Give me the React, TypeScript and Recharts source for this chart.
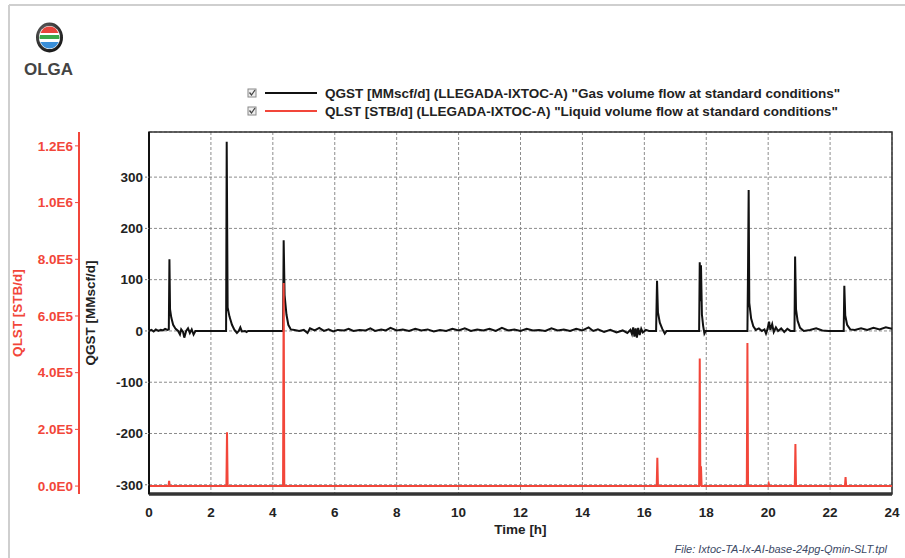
import React from 'react';
import { ComposedChart, Line, XAxis, YAxis, CartesianGrid, ReferenceArea } from 'recharts';

const hourTicks = [0, 2, 4, 6, 8, 10, 12, 14, 16, 18, 20, 22, 24];
const qgstTicks = [-300, -200, -100, 0, 100, 200, 300];
const qlstTicks = [0, 200000, 400000, 600000, 800000, 1000000, 1200000];
const timeDomain = [0, 24];
const qgstDomain = [-318, 388];
const qlstDomain = [-28000, 1249000];

const legendLabels = [
  'QGST [MMscf/d] (LLEGADA-IXTOC-A) "Gas volume flow at standard conditions"',
  'QLST [STB/d] (LLEGADA-IXTOC-A) "Liquid volume flow at standard conditions"',
];

// gas flow
const qgstTime = [
  0, 0.08, 0.15, 0.22, 0.3, 0.38, 0.45, 0.52, 0.6, 0.64, 0.66, 0.68, 0.72, 0.78, 0.86, 0.94, 1.0, 1.04, 1.1, 1.14,
  1.2, 1.26, 1.32, 1.38, 1.44, 1.5, 2.49, 2.51, 2.54, 2.6, 2.68, 2.76, 2.84, 2.9, 2.95, 3.0, 3.1, 3.15, 3.2, 4.33,
  4.35, 4.38, 4.44, 4.5, 4.58, 4.7, 4.85, 5.0, 5.12, 5.2, 5.35, 5.5, 5.65, 5.8, 5.95, 6.1, 6.3, 6.45, 6.6, 6.8,
  7.0, 7.15, 7.3, 7.5, 7.65, 7.8, 8.0, 8.2, 8.4, 8.6, 8.8, 9.0, 9.2, 9.4, 9.6, 9.8, 10.0, 10.2, 10.4, 10.6,
  10.8, 11.0, 11.2, 11.4, 11.6, 11.8, 12.0, 12.2, 12.4, 12.6, 12.8, 13.0, 13.2, 13.4, 13.6, 13.8, 14.0, 14.2, 14.35, 14.5,
  14.7, 14.9, 15.1, 15.3, 15.45, 15.55, 15.6, 15.64, 15.68, 15.72, 15.76, 15.8, 15.85, 15.9, 15.95, 16.05, 16.15, 16.38, 16.41, 16.44,
  16.5, 16.58, 16.66, 16.72, 17.77, 17.79, 17.81, 17.83, 17.86, 17.9, 17.94, 17.98, 19.33, 19.35, 19.37, 19.39, 19.45, 19.52, 19.6, 19.7,
  19.8, 19.88, 19.93, 19.98, 20.03, 20.07, 20.13, 20.18, 20.25, 20.32, 20.42, 20.52, 20.62, 20.72, 20.85, 20.87, 20.9, 20.95, 21.03, 21.15,
  21.35, 21.55, 21.75, 21.95, 22.15, 22.44, 22.46, 22.49, 22.55, 22.65, 22.8, 23.0, 23.2, 23.4, 23.6, 23.8, 24,
];
const qgstValue = [
  0, 2, -1, 3, 0, 2, 1, 4, 2, 3, 140, 42, 26, 12, 4, 0, -7, 3, -2, -13,
  0, 5, -4, 3, -7, 0, 0, 369, 46, 28, 12, 2, -4, 0, 7, -1, 0, -2, 0, 0,
  177, 70, 32, 12, 3, 2, 0, 2, -4, 5, 1, 6, 0, 3, -1, 2, 1, 4, 0, 2,
  1, 5, 0, 3, 1, 6, 1, 3, 0, 4, 1, 3, -1, 2, 0, 4, 1, 5, 0, 3,
  1, 4, 0, 6, 1, 3, 0, 4, 1, 2, 0, 5, 1, 3, 0, 4, 1, 7, 0, 3,
  -2, 2, -3, 1, -4, 2, -6, 7, -11, 5, -13, 6, -8, 4, -3, 2, 0, 0, 98, 36,
  16, 4, -5, 0, 0, 134, 58, 128, 32, 10, -5, 0, 0, 123, 275, 55, 24, 9, 2, 5,
  0, 3, -5, 4, 18, 2, 13, -2, 7, 0, 5, -2, 4, 0, 0, 145, 42, 20, 6, 0,
  2, 5, 1, 0, 0, 0, 88, 30, 12, 3, 2, 5, 2, 6, 3, 7, 4,
];

// liquid flow
const qlstTime = [
  0, 0.63, 0.65, 0.67, 2.5, 2.52, 2.54, 4.33, 4.35, 4.37, 16.4, 16.42, 16.44, 17.77, 17.79, 17.81, 17.83, 17.85,
  19.31, 19.33, 19.35, 20.0, 20.02, 20.04, 20.86, 20.88, 20.9, 22.48, 22.5, 22.52, 24,
];
const qlstValue = [
  0, 0, 18000, 0, 0, 190000, 0, 0, 716000, 0, 0, 100000, 0, 0, 450000, 0, 70000, 0,
  0, 505000, 0, 0, 8000, 0, 0, 148000, 0, 0, 32000, 0, 0,
];

const qgstData = qgstTime.map((t, i) => ({ t, v: qgstValue[i] }));
const qlstData = qlstTime.map((t, i) => ({ t, v: qlstValue[i] }));

const RED = '#f2463a';
const FONT = '"Liberation Sans", Arial, sans-serif';

const sciLabel = (v: number) => v.toExponential(1).replace('e+', 'E').replace('e-', 'E-');

function VerticalTitle({ viewBox, text, color, dx }: any) {
  const cx = viewBox.x + dx;
  const cy = viewBox.y + viewBox.height / 2;
  return (
    <text
      x={cx}
      y={cy}
      transform={`rotate(-90 ${cx} ${cy})`}
      textAnchor="middle"
      dominantBaseline="central"
      fill={color}
      fontSize={13.5}
      fontWeight="bold"
      fontFamily={FONT}
    >
      {text}
    </text>
  );
}

function TimeTitle({ viewBox }: any) {
  return (
    <text
      x={viewBox.x + viewBox.width / 2}
      y={viewBox.y + 35}
      textAnchor="middle"
      dominantBaseline="central"
      fill="#222"
      fontSize={13.5}
      fontWeight="bold"
      fontFamily={FONT}
    >
      Time [h]
    </text>
  );
}

function OlgaLogo() {
  return (
    <svg width={90} height={85} style={{ position: 'absolute', left: 0, top: 0 }}>
      <defs>
        <clipPath id="ball">
          <ellipse cx={49.5} cy={37.5} rx={10} ry={11} />
        </clipPath>
        <radialGradient id="ring" cx="40%" cy="35%" r="70%">
          <stop offset="0%" stopColor="#777" />
          <stop offset="100%" stopColor="#111" />
        </radialGradient>
      </defs>
      <ellipse cx={49.5} cy={37.5} rx={13.5} ry={15} fill="url(#ring)" />
      <ellipse cx={49.5} cy={37.5} rx={10.5} ry={11.5} fill="#fff" />
      <g clipPath="url(#ball)">
        <rect x={38} y={25} width={24} height={8} fill="#e8453c" />
        <rect x={38} y={33} width={24} height={2} fill="#fff" />
        <rect x={38} y={35} width={24} height={4} fill="#3aa84a" />
        <rect x={38} y={39} width={24} height={3} fill="#fff" />
        <rect x={38} y={42} width={24} height={8} fill="#3a8fd8" />
      </g>
      <text x={48.5} y={75} textAnchor="middle" fontSize={17} fontWeight="bold" fill="#444" fontFamily={FONT}>
        OLGA
      </text>
    </svg>
  );
}

function FrameLines() {
  return (
    <svg width={905} height={558} style={{ position: 'absolute', left: 0, top: 0, pointerEvents: 'none' }}>
      <line x1={9} y1={5} x2={9} y2={558} stroke="#cfcfcf" strokeWidth={2} />
      <line x1={9} y1={5} x2={905} y2={5} stroke="#cfcfcf" strokeWidth={2} />
    </svg>
  );
}

function ChartLegend() {
  const colors = ['#111', RED];
  return (
    <div style={{ position: 'absolute', left: 246, top: 84 }}>
      {legendLabels.map((label, i) => (
        <div key={label} style={{ display: 'flex', alignItems: 'center', height: 18 }}>
          <svg width={76} height={18}>
            <rect x={2} y={5} width={8} height={8} fill="#eee" stroke="#888" />
            <path d="M3.5 8.5 L5.5 11 L9 6" fill="none" stroke="#444" strokeWidth={1.3} />
            <line x1={19} y1={9} x2={71} y2={9} stroke={colors[i]} strokeWidth={2} />
          </svg>
          <span
            style={{
              fontFamily: FONT,
              fontWeight: 'bold',
              fontSize: 13.5,
              color: '#222',
              marginLeft: 3,
              whiteSpace: 'nowrap',
            }}
          >
            {label}
          </span>
        </div>
      ))}
    </div>
  );
}

export default function App() {
  return (
    <div
      style={{
        position: 'absolute',
        left: 0,
        top: 0,
        width: 905,
        height: 558,
        background: '#fff',
        overflow: 'hidden',
      }}
    >
      <div style={{ position: 'absolute', left: 0, top: 0 }}>
        <ComposedChart width={905} height={558} margin={{ top: 132, right: 13, bottom: 20, left: 4 }}>
          <CartesianGrid yAxisId="qg" stroke="#8c8c8c" strokeDasharray="3 2" />
          <XAxis
            dataKey="t"
            type="number"
            domain={timeDomain}
            ticks={hourTicks}
            allowDataOverflow
            height={44}
            tickSize={2}
            tickMargin={11}
            tickLine={false}
            axisLine={{ stroke: '#333', strokeWidth: 3.5 }}
            tick={{ fill: '#222', fontSize: 13.5, fontWeight: 'bold', fontFamily: FONT }}
            label={(p: any) => <TimeTitle {...p} />}
          />
          <YAxis
            yAxisId="qg"
            orientation="left"
            width={70}
            domain={qgstDomain}
            ticks={qgstTicks}
            allowDataOverflow
            tickSize={4}
            tickMargin={2}
            axisLine={{ stroke: '#111', strokeWidth: 2 }}
            tickLine={{ stroke: '#777', strokeDasharray: '2 1' }}
            tick={{ fill: '#222', fontSize: 13.5, fontWeight: 'bold', fontFamily: FONT }}
            label={(p: any) => <VerticalTitle {...p} text="QGST [MMscf/d]" color="#222" dx={11} />}
          />
          <YAxis
            yAxisId="ql"
            orientation="left"
            width={75}
            domain={qlstDomain}
            ticks={qlstTicks}
            allowDataOverflow
            tickFormatter={sciLabel}
            tickSize={4}
            tickMargin={2}
            axisLine={{ stroke: RED, strokeWidth: 2 }}
            tickLine={{ stroke: RED }}
            tick={{ fill: RED, fontSize: 13.5, fontWeight: 'bold', fontFamily: FONT }}
            label={(p: any) => <VerticalTitle {...p} text="QLST [STB/d]" color={RED} dx={13} />}
          />
          <Line
            yAxisId="qg"
            data={qgstData}
            dataKey="v"
            type="linear"
            stroke="#111"
            strokeWidth={2}
            dot={false}
            activeDot={false}
            isAnimationActive={false}
          />
          <Line
            yAxisId="ql"
            data={qlstData}
            dataKey="v"
            type="linear"
            stroke={RED}
            strokeWidth={2}
            dot={false}
            activeDot={false}
            isAnimationActive={false}
          />
          <ReferenceArea
            yAxisId="qg"
            x1={timeDomain[0]}
            x2={timeDomain[1]}
            y1={qgstDomain[0]}
            y2={qgstDomain[1]}
            fill="none"
            stroke="#333"
            strokeWidth={1.5}
            ifOverflow="visible"
          />
        </ComposedChart>
      </div>
      <FrameLines />
      <OlgaLogo />
      <ChartLegend />
      <div
        style={{
          position: 'absolute',
          right: 18,
          top: 543,
          fontFamily: FONT,
          fontStyle: 'italic',
          fontSize: 11,
          color: '#3d4a66',
          whiteSpace: 'nowrap',
        }}
      >
        File: Ixtoc-TA-Ix-AI-base-24pg-Qmin-SLT.tpl
      </div>
    </div>
  );
}
